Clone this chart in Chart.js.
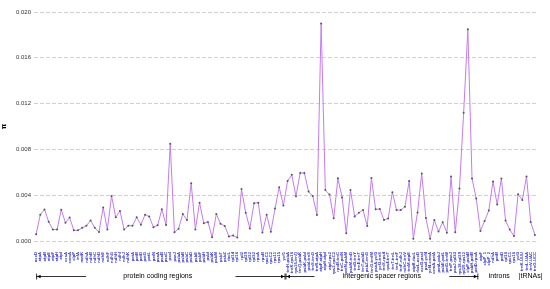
<!DOCTYPE html>
<html>
<head>
<meta charset="utf-8">
<script src="https://cdn.jsdelivr.net/npm/chart.js@4"></script>
<style>
html,body{margin:0;padding:0;background:#fff;}
#wrap{width:550px;height:289px;position:relative;}
</style>
</head>
<body>
<div id="wrap"><canvas id="c" width="550" height="289"></canvas></div>
<script>
const proteinLabels = ['accD','atpA','atpB','atpE','atpF','atpH','atpI','ccsA','cemA','clpP','infA','matK','ndhA','ndhB','ndhC','ndhD','ndhE','ndhF','ndhG','ndhH','ndhI','ndhJ','ndhK','petA','petB','petD','petG','petL','petN','psaA','psaB','psaC','psaI','psaJ','psbA','psbB','psbC','psbD','psbE','psbF','psbH','psbI','psbK','psbM','psbT','psbZ','rbcL','rpl14','rpl16','rpl2','rpl20','rpl22','rpl32','rpoA','rpoB','rpoC1','rpoC2','rps11','rps15','ycf1'];
const intergenicLabels = ['trnH-psbA','trnK-rps16','rps16-trnQ','trnQ-psbK','psbK-psbI','psbI-trnS','trnS-trnG','trnR-atpA','atpF-atpH','atpH-atpI','atpI-rps2','rps2-rpoC2','rpoB-trnC','trnC-petN','petN-psbM','psbM-trnD','trnD-trnY','trnE-trnT','trnT-psbD','psbZ-trnG','trnG-trnfM','psaA-ycf3','ycf3-trnS','trnS-rps4','rps4-trnT','trnT-trnL','trnL-trnF','trnF-ndhJ','ndhC-trnV','trnM-atpE','atpB-rbcL','rbcL-accD','accD-psaI','psaI-ycf4','ycf4-cemA','cemA-petA','petA-psbJ','psbE-petL','petG-trnW','trnP-psaJ','psaJ-rpl33','rps18-rpl20','rpl20-rps12','clpP-psbB','psbH-petB','petD-rpoA'];
const intronLabels = ['atpF','clpP_1','clpP_2','ndhA','petB','petD','rpl16','rpoC1','rps16','ycf3'];
const trnaLabels = ['trnK-UUU','trnL-UAA','trnV-UAC','trnG-UCC'];

const categories = [].concat(proteinLabels, intergenicLabels, intronLabels, trnaLabels);

const piValues = [
 0.00058,0.0023,0.00276,0.00168,0.001,0.001,0.00274,0.0016,0.00205,0.00093,
 0.00093,0.00115,0.00133,0.0018,0.00115,0.00078,0.00293,0.001,0.00394,0.00207,
 0.00263,0.001,0.00134,0.00134,0.00207,0.00143,0.0023,0.00213,0.0012,0.00137,
 0.00277,0.0014,0.0085,0.00076,0.00108,0.00236,0.00184,0.00505,0.001,0.00335,
 0.00155,0.00166,0.00032,0.00236,0.0015,0.00132,0.0004,0.00048,0.0003,0.00454,
 0.00247,0.0011,0.0033,0.00335,0.00075,0.0023,0.0008,0.00283,0.0047,0.0031,
 0.00524,0.00578,0.0039,0.00594,0.00594,0.00432,0.00392,0.00228,0.019,0.00445,
 0.00406,0.00198,0.00548,0.00381,0.00067,0.00445,0.00215,0.00247,0.0027,0.0013,
 0.0055,0.00277,0.0028,0.00184,0.00196,0.00426,0.0027,0.0027,0.003,0.00523,
 0.0002,0.0025,0.0059,0.002,0.0002,0.00184,0.00082,0.00164,0.00073,0.00564,
 0.00076,0.00458,0.0112,0.0185,0.00546,0.00371,0.00088,0.00175,0.00266,0.0052,
 0.00318,0.00546,0.00178,0.001,0.00044,0.00409,0.00359,0.00564,0.00166,0.00053
];

const yTicks = [0, 0.004, 0.008, 0.012, 0.016, 0.020];
const groupNames = ['protein coding regions','intergenic spacer regions','introns','|tRNAs|'];
const groupSizes = [proteinLabels.length, intergenicLabels.length, intronLabels.length, trnaLabels.length];

const groupPlugin = {
  id: 'groups',
  afterDraw(chart, args, opts) {
    const ctx = chart.ctx, xs = chart.scales.x;
    const y = opts.y;
    let start = 0;
    ctx.save();
    ctx.font = opts.font;
    ctx.fillStyle = '#000';
    ctx.strokeStyle = '#000';
    ctx.lineWidth = 0.8;
    ctx.textBaseline = 'middle';
    ctx.textAlign = 'center';
    groupSizes.forEach((n, gi) => {
      const first = start, last = start + n - 1;
      const half = (xs.getPixelForTick(1) - xs.getPixelForTick(0)) / 2;
      const x0 = gi === 0 ? xs.getPixelForTick(first) : xs.getPixelForTick(first) - half;
      const x1 = xs.getPixelForTick(last) + half;
      const cx = (x0 + x1) / 2 + (opts.shift[gi] || 0);
      ctx.fillText(groupNames[gi], cx, y);
      const al = opts.arrows[gi];
      if (al) {
        ctx.beginPath();
        ctx.moveTo(x0, y); ctx.lineTo(x0 + al, y);
        ctx.moveTo(x0 + 0.5, y - 3); ctx.lineTo(x0 + 0.5, y + 3);
        ctx.moveTo(x1, y); ctx.lineTo(x1 - al, y);
        ctx.moveTo(x1 - 0.5, y - 3); ctx.lineTo(x1 - 0.5, y + 3);
        ctx.stroke();
        ctx.beginPath();
        ctx.moveTo(x0 + 1, y); ctx.lineTo(x0 + 4.5, y - 1.8); ctx.lineTo(x0 + 4.5, y + 1.8); ctx.closePath();
        ctx.moveTo(x1 - 1, y); ctx.lineTo(x1 - 4.5, y - 1.8); ctx.lineTo(x1 - 4.5, y + 1.8); ctx.closePath();
        ctx.fill();
      }
      start += n;
    });
    ctx.restore();
  }
};

new Chart(document.getElementById('c'), {
  type: 'line',
  data: {
    labels: categories,
    datasets: [{
      data: piValues,
      borderColor: '#c47cf0',
      borderWidth: 1,
      pointRadius: 1,
      pointBackgroundColor: '#555',
      pointBorderColor: '#555',
      pointBorderWidth: 0,
      tension: 0,
      fill: false
    }]
  },
  options: {
    responsive: false,
    animation: false,
    devicePixelRatio: 1,
    layout: { padding: { top: 12, right: 13, left: 0, bottom: 0 } },
    plugins: {
      legend: { display: false },
      tooltip: { enabled: false },
      groups: { y: 276.5, font: '7px "Liberation Sans", Arial, sans-serif', arrows: [50, 29, 0, 0], shift: [-3, 0, 0, 2] }
    },
    scales: {
      x: {
        offset: true,
        grid: { display: false },
        border: { display: false },
        afterFit(s) { s.height = 48; },
        ticks: {
          autoSkip: false,
          maxRotation: 90,
          minRotation: 90,
          padding: 3,
          color: '#3030d2',
          font: { family: '"Liberation Sans", Arial, sans-serif', size: 4.2, weight: 'bold' }
        }
      },
      y: {
        min: 0,
        max: 0.020,
        afterFit(s) { s.width = 34; },
        afterBuildTicks(s) { s.ticks = yTicks.map(v => ({ value: v })); },
        grid: { color: '#c4c4c4', drawTicks: false, lineWidth: 0.8 },
        border: { display: false, dash: [4, 2] },
        title: { display: true, text: 'π', padding: { top: 0, bottom: 4 }, color: '#000',
                 font: { family: '"DejaVu Sans", sans-serif', size: 7, weight: 'bold' } },
        ticks: {
          padding: 3,
          color: '#333',
          font: { family: '"Liberation Sans", Arial, sans-serif', size: 6 },
          callback: v => Number(v).toFixed(3)
        }
      }
    }
  },
  plugins: [groupPlugin]
});
</script>
</body>
</html>
